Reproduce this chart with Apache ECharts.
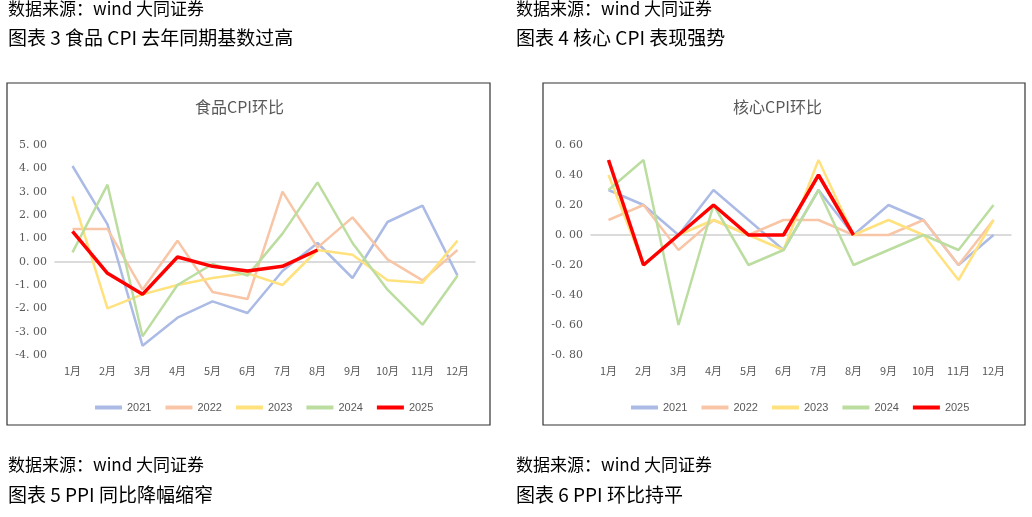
<!DOCTYPE html><html><head><meta charset="utf-8"><script src="https://cdn.jsdelivr.net/npm/echarts@6/dist/echarts.min.js"></script>
<style>html,body{margin:0;background:#fff}#c{width:1032px;height:517px}</style></head><body><div id="c"></div><script>
const months=['1月','2月','3月','4月','5月','6月','7月','8月','9月','10月','11月','12月'];
const years=['2021','2022','2023','2024','2025'];
const food2021=[4.1,1.6,-3.6,-2.4,-1.7,-2.2,-0.4,0.8,-0.7,1.7,2.4,-0.6];
const food2022=[1.4,1.4,-1.2,0.9,-1.3,-1.6,3.0,0.6,1.9,0.1,-0.8,0.5];
const food2023=[2.8,-2.0,-1.4,-1.0,-0.7,-0.5,-1.0,0.5,0.3,-0.8,-0.9,0.9];
const food2024=[0.4,3.3,-3.2,-1.0,-0.1,-0.6,1.2,3.4,0.8,-1.2,-2.7,-0.6];
const food2025=[1.3,-0.5,-1.4,0.2,-0.2,-0.4,-0.2,0.5];
const core2021=[0.3,0.2,0,0.3,0.1,-0.1,0.3,0,0.2,0.1,-0.2,0];
const core2022=[0.1,0.2,-0.1,0.1,0,0.1,0.1,0,0,0.1,-0.2,0.1];
const core2023=[0.4,-0.2,0,0.1,0,-0.1,0.5,0,0.1,0,-0.3,0.1];
const core2024=[0.3,0.5,-0.6,0.2,-0.2,-0.1,0.3,-0.2,-0.1,0,-0.1,0.2];
const core2025=[0.5,-0.2,0,0.2,0,0,0.4,0];
const colors=['#abbbe6','#f8c6a6','#ffe27e','#bcdda0','#ff0000'];
const F='Noto Sans CJK SC';
const food=[food2021,food2022,food2023,food2024,food2025];
const core=[core2021,core2022,core2023,core2024,core2025];
function fmt(v){return v.toFixed(2).replace('.', '. ');}
const lbl={color:'#595959',fontSize:11,fontFamily:'DejaVu Serif'};
function yAx(i,min,max,int){return {gridIndex:i,min,max,interval:int,axisLine:{show:false},axisTick:{show:false},splitLine:{show:false},axisLabel:Object.assign({formatter:fmt,margin:8},lbl)};}
function xAx(i){return {gridIndex:i,type:'category',data:months,axisLine:{onZero:true,lineStyle:{color:'#d0d0d0',width:1.5}},axisTick:{show:false},axisLabel:Object.assign({interval:0,margin:10,position:'bottom'},lbl,{fontFamily:F})};}
const series=[];
[food,core].forEach((set,g)=>set.forEach((d,k)=>series.push({type:'line',name:years[k],xAxisIndex:g,yAxisIndex:g,data:d,symbol:'none',z:k==4?5:2,lineStyle:{color:colors[k],width:k==4?3.5:2.5},itemStyle:{color:colors[k]}})));
function txt(x,y,t,size,color){return {type:'text',left:x,top:y,style:{text:t,font:(size)+'px "'+F+'"',fill:color||'#000'}};}
const graphic=[
 txt(8,0,'数据来源：wind 大同证券',17),txt(8,28,'图表 3 食品 CPI 去年同期基数过高',19),
 txt(516,0,'数据来源：wind 大同证券',17),txt(516,28,'图表 4 核心 CPI 表现强势',19),
 txt(8,456,'数据来源：wind 大同证券',17),txt(8,485,'图表 5 PPI 同比降幅缩窄',19),
 txt(516,456,'数据来源：wind 大同证券',17),txt(516,485,'图表 6 PPI 环比持平',19),
 {type:'rect',shape:{x:7,y:83,width:483,height:342},style:{fill:'none',stroke:'#333',lineWidth:1.2}},
 {type:'rect',shape:{x:543,y:83,width:482,height:342},style:{fill:'none',stroke:'#333',lineWidth:1.2}},
 {type:'text',left:195,top:99,style:{text:'食品CPI环比',font:'16px "'+F+'"',fill:'#595959'}},
 {type:'text',left:733,top:99,style:{text:'核心CPI环比',font:'16px "'+F+'"',fill:'#595959'}}
];
const leg=(i,left)=>({data:years,left,top:397,itemWidth:27,itemHeight:4,itemGap:14,icon:'rect',textStyle:{color:'#595959',fontSize:11,fontFamily:'Liberation Sans'}});
const chart=echarts.init(document.getElementById('c'));
chart.setOption({animation:false,backgroundColor:'#fff',
 grid:[{left:55,top:145,width:420,height:210},{left:591,top:145,width:420,height:210}],
 xAxis:[xAx(0),xAx(1)],
 yAxis:[yAx(0,-4,5,1),yAx(1,-0.8,0.6,0.2)],
 legend:[leg(0,90),leg(1,626)],
 series,graphic});
</script></body></html>
